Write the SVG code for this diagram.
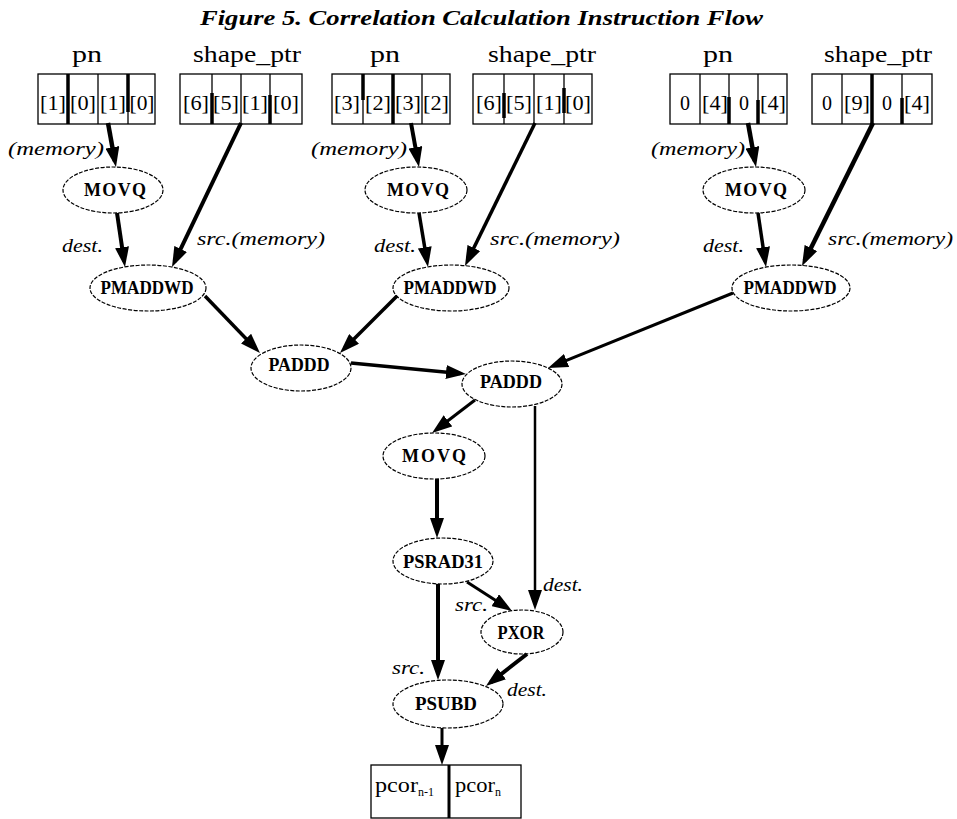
<svg xmlns="http://www.w3.org/2000/svg" width="957" height="819" viewBox="0 0 957 819">
<style>
.title{font-family:"Liberation Serif",serif;font-weight:bold;font-style:italic;font-size:22px;fill:#000}
.lbl{font-family:"Liberation Serif",serif;font-size:23px;fill:#000;text-anchor:middle}
.cell{font-family:"Liberation Serif",serif;font-size:20px;fill:#000;text-anchor:middle}
.box{fill:#fff;stroke:#000;stroke-width:1.3}
.div{stroke:#000;stroke-width:1.3}
.thk{stroke:#000;stroke-width:3.5}
.node ellipse{fill:#fff;stroke:#000;stroke-width:1.2;stroke-dasharray:4 1.5}
.node text{font-family:"Liberation Serif",serif;font-weight:bold;font-size:18px;fill:#000;text-anchor:middle}
.it{font-family:"Liberation Serif",serif;font-style:italic;font-size:19px;fill:#000}
.edge{stroke:#000;fill:none;marker-end:url(#ah)}
</style>
<defs>
<marker id="ah" markerUnits="userSpaceOnUse" markerWidth="20" markerHeight="14" refX="14" refY="7" orient="auto" viewBox="0 0 20 14"><path d="M0,0 L20,7 L0,14 z" fill="#000"/></marker>
</defs>
<rect width="957" height="819" fill="#fff"/>
<text class="title" x="200" y="25" textLength="563" lengthAdjust="spacingAndGlyphs">Figure 5. Correlation Calculation Instruction Flow</text>

<g id="pn1">
<text class="lbl" x="87" y="62" textLength="30" lengthAdjust="spacingAndGlyphs">pn</text>
<rect class="box" x="38" y="74" width="117" height="50"/>
<line class="div" x1="98" y1="74" x2="98" y2="124"/>
<line class="thk" x1="68" y1="74" x2="68" y2="124"/>
<line class="div" x1="128" y1="74" x2="128" y2="124"/>
<line class="thk" x1="128" y1="74" x2="128" y2="112"/>
<text class="cell" x="53" y="110" textLength="26" lengthAdjust="spacingAndGlyphs">[1]</text>
<text class="cell" x="83" y="110" textLength="26" lengthAdjust="spacingAndGlyphs">[0]</text>
<text class="cell" x="113" y="110" textLength="26" lengthAdjust="spacingAndGlyphs">[1]</text>
<text class="cell" x="142" y="110" textLength="25" lengthAdjust="spacingAndGlyphs">[0]</text>
</g>
<g id="shape1">
<text class="lbl" x="247" y="62" textLength="108" lengthAdjust="spacingAndGlyphs">shape_ptr</text>
<rect class="box" x="180" y="74" width="122" height="50"/>
<line class="div" x1="212" y1="74" x2="212" y2="124"/>
<line class="div" x1="241" y1="74" x2="241" y2="124"/>
<line class="div" x1="270" y1="74" x2="270" y2="124"/>
<line class="thk" x1="212" y1="93" x2="212" y2="124"/>
<line class="thk" x1="270" y1="95" x2="270" y2="124"/>
<text class="cell" x="196" y="110" textLength="26" lengthAdjust="spacingAndGlyphs">[6]</text>
<text class="cell" x="226" y="110" textLength="26" lengthAdjust="spacingAndGlyphs">[5]</text>
<text class="cell" x="255" y="110" textLength="26" lengthAdjust="spacingAndGlyphs">[1]</text>
<text class="cell" x="286" y="110" textLength="26" lengthAdjust="spacingAndGlyphs">[0]</text>
</g>
<g id="pn2">
<text class="lbl" x="385" y="62" textLength="30" lengthAdjust="spacingAndGlyphs">pn</text>
<rect class="box" x="332" y="74" width="118" height="50"/>
<line class="div" x1="363" y1="74" x2="363" y2="124"/>
<line class="thk" x1="363" y1="74" x2="363" y2="100"/>
<line class="thk" x1="393" y1="74" x2="393" y2="124"/>
<line class="div" x1="422" y1="74" x2="422" y2="124"/>
<text class="cell" x="347" y="110" textLength="26" lengthAdjust="spacingAndGlyphs">[3]</text>
<text class="cell" x="378" y="110" textLength="26" lengthAdjust="spacingAndGlyphs">[2]</text>
<text class="cell" x="408" y="110" textLength="26" lengthAdjust="spacingAndGlyphs">[3]</text>
<text class="cell" x="436" y="110" textLength="26" lengthAdjust="spacingAndGlyphs">[2]</text>
</g>
<g id="shape2">
<text class="lbl" x="542" y="62" textLength="108" lengthAdjust="spacingAndGlyphs">shape_ptr</text>
<rect class="box" x="473" y="74" width="119" height="50"/>
<line class="div" x1="504" y1="74" x2="504" y2="124"/>
<line class="div" x1="534" y1="74" x2="534" y2="124"/>
<line class="div" x1="564" y1="74" x2="564" y2="124"/>
<line class="thk" x1="504" y1="93" x2="504" y2="118"/>
<line class="thk" x1="564" y1="88" x2="564" y2="113"/>
<text class="cell" x="489" y="110" textLength="26" lengthAdjust="spacingAndGlyphs">[6]</text>
<text class="cell" x="519" y="110" textLength="26" lengthAdjust="spacingAndGlyphs">[5]</text>
<text class="cell" x="549" y="110" textLength="26" lengthAdjust="spacingAndGlyphs">[1]</text>
<text class="cell" x="578" y="110" textLength="26" lengthAdjust="spacingAndGlyphs">[0]</text>
</g>
<g id="pn3">
<text class="lbl" x="718" y="62" textLength="30" lengthAdjust="spacingAndGlyphs">pn</text>
<rect class="box" x="670" y="74" width="117" height="50"/>
<line class="div" x1="700" y1="74" x2="700" y2="124"/>
<line class="div" x1="729" y1="74" x2="729" y2="124"/>
<line class="div" x1="758" y1="74" x2="758" y2="124"/>
<line class="thk" x1="729" y1="97" x2="729" y2="124"/>
<line class="thk" x1="758" y1="100" x2="758" y2="124"/>
<text class="cell" x="685" y="110">0</text>
<text class="cell" x="715" y="110" textLength="26" lengthAdjust="spacingAndGlyphs">[4]</text>
<text class="cell" x="744" y="110">0</text>
<text class="cell" x="773" y="110" textLength="26" lengthAdjust="spacingAndGlyphs">[4]</text>
</g>
<g id="shape3">
<text class="lbl" x="878" y="62" textLength="108" lengthAdjust="spacingAndGlyphs">shape_ptr</text>
<rect class="box" x="812" y="74" width="120" height="50"/>
<line class="div" x1="842" y1="74" x2="842" y2="124"/>
<line class="thk" x1="872" y1="74" x2="872" y2="124"/>
<line class="div" x1="902" y1="74" x2="902" y2="124"/>
<line class="thk" x1="902" y1="98" x2="902" y2="124"/>
<text class="cell" x="827" y="110">0</text>
<text class="cell" x="857" y="110" textLength="26" lengthAdjust="spacingAndGlyphs">[9]</text>
<text class="cell" x="887" y="110">0</text>
<text class="cell" x="917" y="110" textLength="26" lengthAdjust="spacingAndGlyphs">[4]</text>
</g>

<g id="movq1" class="node"><ellipse cx="113" cy="190" rx="50" ry="23"/><text x="115" y="196" textLength="62" lengthAdjust="spacing">MOVQ</text></g>
<g id="movq2" class="node"><ellipse cx="416" cy="190" rx="51" ry="23"/><text x="418" y="196" textLength="62" lengthAdjust="spacing">MOVQ</text></g>
<g id="movq3" class="node"><ellipse cx="754" cy="190" rx="51" ry="23"/><text x="756" y="196" textLength="62" lengthAdjust="spacing">MOVQ</text></g>
<g id="pmaddwd1" class="node"><ellipse cx="148" cy="288" rx="58" ry="23"/><text x="147" y="294" textLength="93" lengthAdjust="spacingAndGlyphs">PMADDWD</text></g>
<g id="pmaddwd2" class="node"><ellipse cx="451" cy="288" rx="58" ry="23"/><text x="450" y="294" textLength="93" lengthAdjust="spacingAndGlyphs">PMADDWD</text></g>
<g id="pmaddwd3" class="node"><ellipse cx="791" cy="288" rx="59" ry="23"/><text x="790" y="294" textLength="93" lengthAdjust="spacingAndGlyphs">PMADDWD</text></g>
<g id="paddd1" class="node"><ellipse cx="301" cy="368" rx="50" ry="23"/><text x="299" y="371" textLength="61" lengthAdjust="spacingAndGlyphs">PADDD</text></g>
<g id="paddd2" class="node"><ellipse cx="512" cy="384" rx="50" ry="23"/><text x="511" y="388" textLength="62" lengthAdjust="spacingAndGlyphs">PADDD</text></g>
<g id="movq4" class="node"><ellipse cx="434" cy="456" rx="51" ry="23"/><text x="434" y="462" textLength="64" lengthAdjust="spacing">MOVQ</text></g>
<g id="psrad31" class="node"><ellipse cx="443" cy="561" rx="50" ry="23"/><text x="443" y="568" textLength="80" lengthAdjust="spacingAndGlyphs">PSRAD31</text></g>
<g id="pxor" class="node"><ellipse cx="522" cy="632" rx="41" ry="22"/><text x="521" y="639" textLength="47" lengthAdjust="spacingAndGlyphs">PXOR</text></g>
<g id="psubd" class="node"><ellipse cx="448" cy="704" rx="55" ry="24"/><text x="446" y="710" textLength="62" lengthAdjust="spacingAndGlyphs">PSUBD</text></g>

<g id="pcor">
<rect class="box" x="371" y="765" width="150" height="53"/>
<line class="thk" x1="449" y1="765" x2="449" y2="818" style="stroke-width:3"/>
<text x="375" y="792" style="font-family:'Liberation Serif',serif;font-size:20px"><tspan textLength="43" lengthAdjust="spacingAndGlyphs">pcor</tspan><tspan dy="4" style="font-size:12px">n-1</tspan></text>
<text x="455" y="792" style="font-family:'Liberation Serif',serif;font-size:20px"><tspan textLength="40" lengthAdjust="spacingAndGlyphs">pcor</tspan><tspan dy="4" style="font-size:12px">n</tspan></text>
</g>

<g id="connectors">
<line class="edge" x1="108" y1="123" x2="114.9" y2="161.1" stroke-width="4.5"/>
<line class="edge" x1="241" y1="123" x2="174.6" y2="261.6" stroke-width="4"/>
<line class="edge" x1="117" y1="213" x2="124.1" y2="261.1" stroke-width="4"/>
<line class="edge" x1="411" y1="123" x2="417.9" y2="161.1" stroke-width="4"/>
<line class="edge" x1="535" y1="123" x2="467.6" y2="260.6" stroke-width="3.5"/>
<line class="edge" x1="419" y1="213" x2="427" y2="261.1" stroke-width="3.5"/>
<line class="edge" x1="748" y1="123" x2="754.9" y2="161.1" stroke-width="4.5"/>
<line class="edge" x1="873" y1="123" x2="804.7" y2="260.6" stroke-width="4.5"/>
<line class="edge" x1="758" y1="213" x2="765.1" y2="261.1" stroke-width="3.5"/>
<line class="edge" x1="205" y1="296" x2="255.8" y2="348.7" stroke-width="3.5"/>
<line class="edge" x1="397" y1="296" x2="344.2" y2="348.8" stroke-width="3.5"/>
<line class="edge" x1="351" y1="363" x2="460" y2="373.4" stroke-width="3.5"/>
<line class="edge" x1="733" y1="293" x2="553.6" y2="365.7" stroke-width="3"/>
<line class="edge" x1="475" y1="400" x2="436.8" y2="429.3" stroke-width="3"/>
<line class="edge" x1="535" y1="406" x2="535" y2="604" stroke-width="2.5"/>
<line class="edge" x1="437" y1="479" x2="437" y2="532" stroke-width="4"/>
<line class="edge" x1="467" y1="582" x2="507" y2="607.7" stroke-width="3"/>
<line class="edge" x1="438" y1="584" x2="438" y2="674" stroke-width="4"/>
<line class="edge" x1="527" y1="654" x2="490.7" y2="682.3" stroke-width="4"/>
<line class="edge" x1="442" y1="728" x2="442" y2="759" stroke-width="3"/>
<text class="it" x="8" y="155" textLength="96" lengthAdjust="spacingAndGlyphs">(memory)</text>
<text class="it" x="311" y="155" textLength="96" lengthAdjust="spacingAndGlyphs">(memory)</text>
<text class="it" x="651" y="155" textLength="94" lengthAdjust="spacingAndGlyphs">(memory)</text>
<text class="it" x="62" y="252" textLength="41" lengthAdjust="spacingAndGlyphs">dest.</text>
<text class="it" x="374" y="252" textLength="42" lengthAdjust="spacingAndGlyphs">dest.</text>
<text class="it" x="703" y="252" textLength="41" lengthAdjust="spacingAndGlyphs">dest.</text>
<text class="it" x="197" y="245" textLength="128" lengthAdjust="spacingAndGlyphs">src.(memory)</text>
<text class="it" x="490" y="245" textLength="130" lengthAdjust="spacingAndGlyphs">src.(memory)</text>
<text class="it" x="828" y="245" textLength="125" lengthAdjust="spacingAndGlyphs">src.(memory)</text>
<text class="it" x="543" y="591" textLength="40" lengthAdjust="spacingAndGlyphs">dest.</text>
<text class="it" x="455" y="611" textLength="33" lengthAdjust="spacingAndGlyphs">src.</text>
<text class="it" x="392" y="674" textLength="33" lengthAdjust="spacingAndGlyphs">src.</text>
<text class="it" x="507" y="696" textLength="40" lengthAdjust="spacingAndGlyphs">dest.</text>
</g>
</svg>
